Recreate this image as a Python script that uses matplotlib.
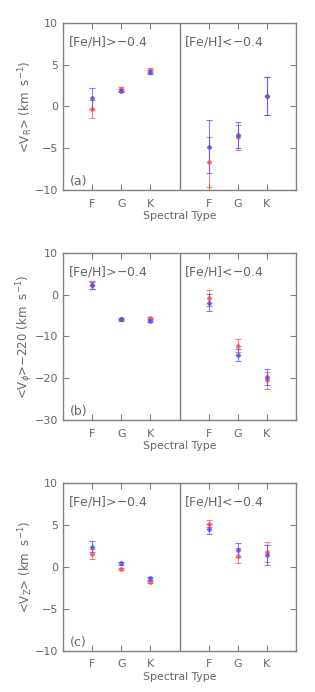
import numpy as np
import matplotlib.pyplot as plt

# x positions: F, G, K for metal-rich (left) and metal-poor (right) halves
types = ["F", "G", "K"]

# panel (a) <V_R>
vr_rich_red = [-0.3, 2.1, 4.3]
vr_rich_red_err = [1.1, 0.25, 0.3]
vr_rich_blue = [0.95, 1.9, 4.1]
vr_rich_blue_err = [1.2, 0.2, 0.2]
vr_poor_red = [-6.6, -3.7, 1.25]
vr_poor_red_err = [3.0, 1.5, 2.3]
vr_poor_blue = [-4.8, -3.4, 1.25]
vr_poor_blue_err = [3.2, 1.6, 2.3]

# panel (b) <V_phi>-220
vp_rich_red = [2.3, -5.8, -5.7]
vp_rich_red_err = [0.9, 0.3, 0.3]
vp_rich_blue = [2.2, -5.9, -6.2]
vp_rich_blue_err = [0.8, 0.3, 0.3]
vp_poor_red = [-0.8, -12.2, -20.5]
vp_poor_red_err = [2.0, 1.5, 2.0]
vp_poor_blue = [-1.9, -14.4, -19.7]
vp_poor_blue_err = [2.0, 1.4, 2.0]

# panel (c) <V_Z>
vz_rich_red = [1.6, -0.2, -1.8]
vz_rich_red_err = [0.6, 0.1, 0.15]
vz_rich_blue = [2.45, 0.45, -1.35]
vz_rich_blue_err = [0.65, 0.15, 0.15]
vz_poor_red = [5.2, 1.35, 1.8]
vz_poor_red_err = [0.45, 0.9, 1.2]
vz_poor_blue = [4.6, 2.0, 1.45]
vz_poor_blue_err = [0.6, 0.85, 1.2]

grey = "#666666"
spine = "#808080"
red = "#ff4a4a"
blue = "#4a4aff"

panels = [
    dict(rr=vr_rich_red, rre=vr_rich_red_err, rb=vr_rich_blue, rbe=vr_rich_blue_err,
         pr=vr_poor_red, pre=vr_poor_red_err, pb=vr_poor_blue, pbe=vr_poor_blue_err,
         ylim=(-10, 10), yticks=[-10, -5, 0, 5, 10],
         ylabel=r"<V$_{\rm R}$> (km  s$^{-1}$)", tag="(a)"),
    dict(rr=vp_rich_red, rre=vp_rich_red_err, rb=vp_rich_blue, rbe=vp_rich_blue_err,
         pr=vp_poor_red, pre=vp_poor_red_err, pb=vp_poor_blue, pbe=vp_poor_blue_err,
         ylim=(-30, 10), yticks=[-30, -20, -10, 0, 10],
         ylabel=r"<V$_\phi$>$-$220 (km  s$^{-1}$)", tag="(b)"),
    dict(rr=vz_rich_red, rre=vz_rich_red_err, rb=vz_rich_blue, rbe=vz_rich_blue_err,
         pr=vz_poor_red, pre=vz_poor_red_err, pb=vz_poor_blue, pbe=vz_poor_blue_err,
         ylim=(-10, 10), yticks=[-10, -5, 0, 5, 10],
         ylabel=r"<V$_{\rm Z}$> (km  s$^{-1}$)", tag="(c)"),
]

fig = plt.figure(figsize=(3.15, 6.92), dpi=100)
tops = [22.7, 252.7, 483.3]
H = 167.5
left, right = 63, 296
W, Hf = 315, 692

x_rich = np.array([1, 2, 3])
x_poor = np.array([5, 6, 7])

for p, top in zip(panels, tops):
    ax = fig.add_axes([left / W, 1 - (top + H) / Hf, (right - left) / W, H / Hf])
    for x, y, e, c in [(x_rich, p["rr"], p["rre"], red), (x_poor, p["pr"], p["pre"], red),
                       (x_rich, p["rb"], p["rbe"], blue), (x_poor, p["pb"], p["pbe"], blue)]:
        ax.errorbar(x, y, yerr=e, fmt="D", ms=2.2, color=c, ecolor=c, elinewidth=0.8,
                    capsize=2, capthick=0.8, alpha=0.7, linestyle="none")
    ax.axvline(4, color=spine, lw=1)
    ax.set_xlim(0, 8)
    ax.set_ylim(*p["ylim"])
    ax.set_yticks(p["yticks"])
    ax.set_xticks(np.concatenate([x_rich, x_poor]))
    ax.set_xticklabels(types + types)
    ax.tick_params(direction="in", length=4, width=0.8, color=spine, labelcolor=grey,
                   labelsize=8, right=True, top=True)
    ax.tick_params(axis="x", pad=6)
    for s in ax.spines.values():
        s.set_color(spine)
        s.set_linewidth(1)
    ax.set_ylabel(p["ylabel"], color=grey, fontsize=8.5, labelpad=0)
    ax.set_xlabel("Spectral Type", color=grey, fontsize=7.8, labelpad=2)
    ax.text(0.02, 0.865, "[Fe/H]>$-$0.4", transform=ax.transAxes, color=grey, fontsize=9)
    ax.text(0.52, 0.865, "[Fe/H]<$-$0.4", transform=ax.transAxes, color=grey, fontsize=9)
    ax.text(0.03, 0.03, p["tag"], transform=ax.transAxes, color=grey, fontsize=9)

fig.savefig("out.png", dpi=100)
